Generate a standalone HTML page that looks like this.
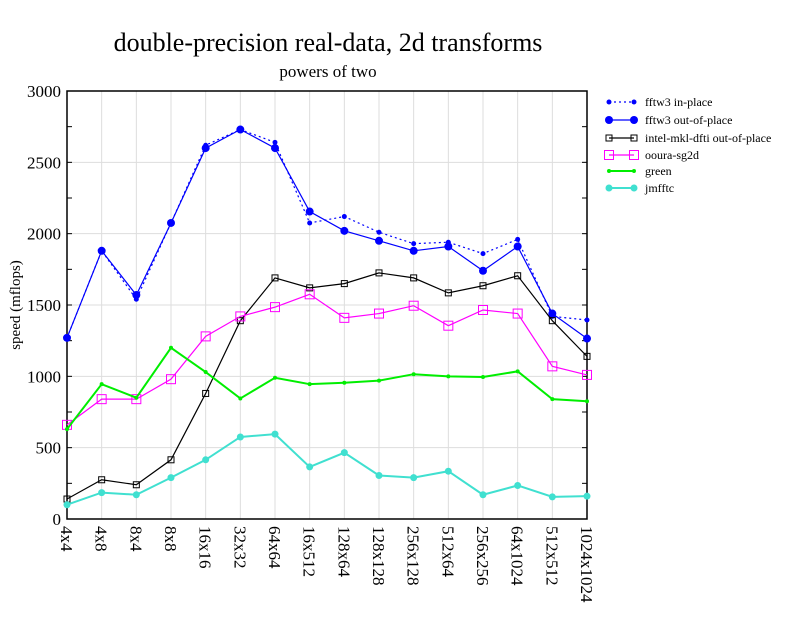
<!DOCTYPE html>
<html><head><style>body{margin:0;background:#fff}</style></head><body>
<svg width="792" height="612" xmlns="http://www.w3.org/2000/svg" font-family="Liberation Serif, serif">
<rect width="792" height="612" fill="#fff"/>
<text x="328" y="51" font-size="26" text-anchor="middle">double-precision real-data, 2d transforms</text>
<text x="328" y="77" font-size="17" text-anchor="middle">powers of two</text>
<text transform="translate(20,305) rotate(-90)" font-size="15" text-anchor="middle">speed (mflops)</text>
<g id="grid" stroke="#ddd" stroke-width="1"></g>
<rect x="67" y="91" width="520" height="428" fill="none" stroke="#000" stroke-width="1.5"/>
<g id="ticks" font-size="17"></g>
<g id="series"></g>
<g id="legend" font-size="12"></g>
<script>
const X0=67,DX=520/15,Y0=519,SY=428/3000;
const labels=["4x4","4x8","8x4","8x8","16x16","32x32","64x64","16x512","128x64","128x128","256x128","512x64","256x256","64x1024","512x512","1024x1024"];
const NS="http://www.w3.org/2000/svg";
function el(p,t,a,txt){const e=document.createElementNS(NS,t);for(const k in a)e.setAttribute(k,a[k]);if(txt!==undefined)e.textContent=txt;p.appendChild(e);return e;}
const g=document.getElementById('grid'),tk=document.getElementById('ticks');
for(let i=1;i<15;i++){const x=X0+i*DX;el(g,'line',{x1:x,x2:x,y1:91,y2:519});}
for(let v=500;v<3000;v+=500){const y=Y0-v*SY;el(g,'line',{x1:67,x2:587,y1:y,y2:y});}
for(let v=0;v<=3000;v+=250){const y=Y0-v*SY;el(tk,'line',{x1:67,x2:72,y1:y,y2:y,stroke:'#000'});el(tk,'line',{x1:582,x2:587,y1:y,y2:y,stroke:'#000'});
 if(v%500==0)el(tk,'text',{x:61,y:y+6,'text-anchor':'end'},v);}
labels.forEach((l,i)=>{const x=X0+i*DX;el(tk,'text',{transform:`translate(${x-6},526) rotate(90)`},l);});
const S=[
{n:"fftw3 in-place",c:"#0000ff",d:"2,3",r:2.5,m:'c',v:[1270,1880,1540,2075,2620,2730,2640,2075,2120,2010,1930,1940,1860,1960,1420,1395]},
{n:"fftw3 out-of-place",c:"#0000ff",r:4,m:'c',v:[1270,1880,1570,2075,2600,2730,2600,2155,2020,1950,1880,1910,1740,1910,1440,1265]},
{n:"intel-mkl-dfti out-of-place",c:"#000",r:3,m:'s',v:[140,275,240,415,880,1390,1690,1620,1650,1725,1690,1585,1635,1705,1390,1140]},
{n:"ooura-sg2d",c:"#ff00ff",r:4.5,m:'s',v:[660,840,840,980,1280,1420,1485,1575,1410,1440,1495,1355,1465,1440,1070,1010]},
{n:"green",c:"#00ee00",r:2,m:'c',w:2,v:[630,945,850,1200,1030,845,990,945,955,970,1015,1000,995,1035,840,825]},
{n:"jmfftc",c:"#40e0d0",r:3.5,m:'c',w:2,v:[100,185,170,290,415,575,595,365,465,305,290,335,170,235,155,160]}];
const sg=document.getElementById('series'),lg=document.getElementById('legend');
function mark(p,s,x,y){if(s.m=='c')el(p,'circle',{cx:x,cy:y,r:s.r,fill:s.c});else el(p,'rect',{x:x-s.r,y:y-s.r,width:2*s.r,height:2*s.r,fill:'none',stroke:s.c,'stroke-width':1});}
S.forEach((s,k)=>{const pts=s.v.map((v,i)=>[X0+i*DX,Y0-v*SY]);
 const a={points:pts.map(p=>p.join(',')).join(' '),fill:'none',stroke:s.c,'stroke-width':s.w||1.2};if(s.d)a['stroke-dasharray']=s.d;el(sg,'polyline',a);
 pts.forEach(p=>mark(sg,s,p[0],p[1]));
 const ly=[102,120,138,155,171,188][k];const b={x1:609,x2:634,y1:ly,y2:ly,stroke:s.c,'stroke-width':s.w||1.2};if(s.d)b['stroke-dasharray']=s.d;el(lg,'line',b);
 mark(lg,s,609,ly);mark(lg,s,634,ly);el(lg,'text',{x:645,y:ly+4},s.n);});
</script>
</svg>
</body></html>
